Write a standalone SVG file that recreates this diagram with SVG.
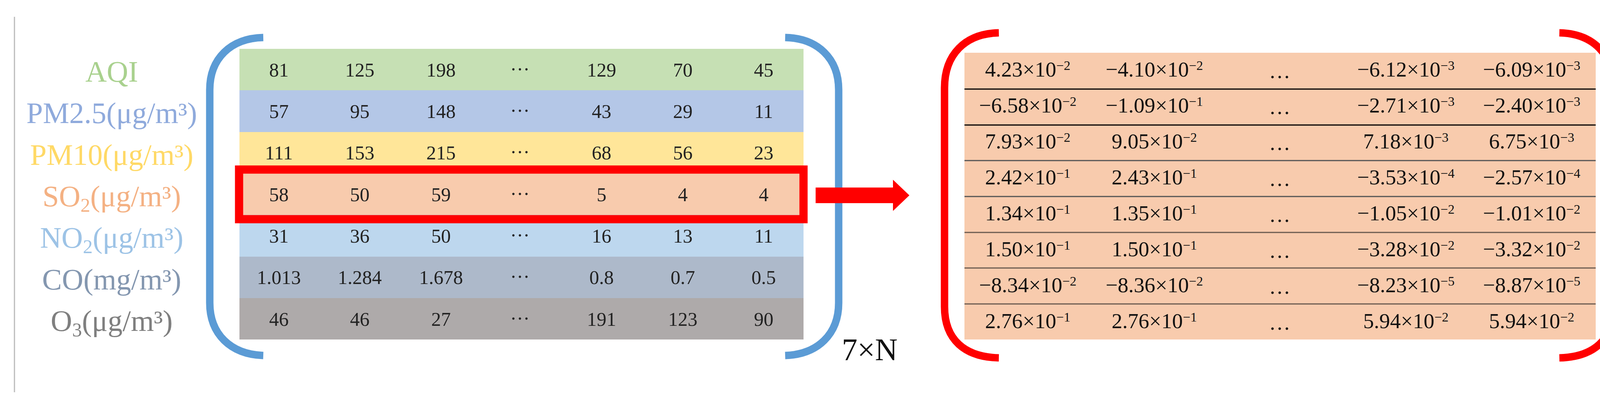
<svg xmlns="http://www.w3.org/2000/svg" width="4312" height="1029" viewBox="0 0 4312 1029">
<style>
.lab{font-family:"Liberation Serif",serif;font-size:76px;text-anchor:middle}
.sub{font-size:50px}
.num{font-family:"Liberation Serif",serif;font-size:50px;text-anchor:middle;fill:#222}
.sci{font-family:"Liberation Serif",serif;font-size:55px;text-anchor:middle;fill:#111}
.sup{font-size:34px}
.dim{font-family:"Liberation Serif",serif;font-size:80px;fill:#111}
</style>
<rect width="4312" height="1029" fill="#fff"/>
<line x1="37" y1="43" x2="37" y2="1004" stroke="#bbb" stroke-width="3"/>
<g id="labels">
<text class="lab" x="286" y="209" fill="#a9d18e">AQI</text>
<text class="lab" x="286" y="315" fill="#8faadc">PM2.5(μg/m³)</text>
<text class="lab" x="286" y="422" fill="#ffd966">PM10(μg/m³)</text>
<text class="lab" x="286" y="528" fill="#f4b183">SO<tspan class="sub" dy="14">2</tspan><tspan dy="-14">(μg/m³)</tspan></text>
<text class="lab" x="286" y="634" fill="#9dc3e6">NO<tspan class="sub" dy="14">2</tspan><tspan dy="-14">(μg/m³)</tspan></text>
<text class="lab" x="286" y="741" fill="#8497b0">CO(mg/m³)</text>
<text class="lab" x="286" y="847" fill="#7f7f7f">O<tspan class="sub" dy="14">3</tspan><tspan dy="-14">(μg/m³)</tspan></text>
</g>
<g id="matrix-left">
<rect x="613" y="125" width="1444" height="106" fill="#c6e0b4"/>
<rect x="613" y="231" width="1444" height="107" fill="#b4c7e7"/>
<rect x="613" y="338" width="1444" height="106" fill="#ffe699"/>
<rect x="613" y="444" width="1444" height="106" fill="#f8cbad"/>
<rect x="613" y="550" width="1444" height="107" fill="#bdd7ee"/>
<rect x="613" y="657" width="1444" height="106" fill="#adb9ca"/>
<rect x="613" y="763" width="1444" height="106" fill="#aeaaaa"/>
<g class="num">
<text x="714" y="196">81</text><text x="921" y="196">125</text><text x="1129" y="196">198</text><text x="1331" y="180">…</text><text x="1540" y="196">129</text><text x="1748" y="196">70</text><text x="1955" y="196">45</text>
<text x="714" y="302">57</text><text x="921" y="302">95</text><text x="1129" y="302">148</text><text x="1331" y="286">…</text><text x="1540" y="302">43</text><text x="1748" y="302">29</text><text x="1955" y="302">11</text>
<text x="714" y="408">111</text><text x="921" y="408">153</text><text x="1129" y="408">215</text><text x="1331" y="392">…</text><text x="1540" y="408">68</text><text x="1748" y="408">56</text><text x="1955" y="408">23</text>
<text x="714" y="515">58</text><text x="921" y="515">50</text><text x="1129" y="515">59</text><text x="1331" y="499">…</text><text x="1540" y="515">5</text><text x="1748" y="515">4</text><text x="1955" y="515">4</text>
<text x="714" y="621">31</text><text x="921" y="621">36</text><text x="1129" y="621">50</text><text x="1331" y="605">…</text><text x="1540" y="621">16</text><text x="1748" y="621">13</text><text x="1955" y="621">11</text>
<text x="714" y="727">1.013</text><text x="921" y="727">1.284</text><text x="1129" y="727">1.678</text><text x="1331" y="711">…</text><text x="1540" y="727">0.8</text><text x="1748" y="727">0.7</text><text x="1955" y="727">0.5</text>
<text x="714" y="834">46</text><text x="921" y="834">46</text><text x="1129" y="834">27</text><text x="1331" y="818">…</text><text x="1540" y="834">191</text><text x="1748" y="834">123</text><text x="1955" y="834">90</text>
</g>
<rect x="612" y="434" width="1445" height="127" fill="none" stroke="#ff0000" stroke-width="21"/>
<path d="M674,96 C590,98 537,150 537,230 L537,775 C537,855 590,907 674,910" fill="none" stroke="#5b9bd5" stroke-width="19"/>
<path d="M2010,96 C2094,98 2147,150 2147,230 L2147,775 C2147,855 2094,907 2010,910" fill="none" stroke="#5b9bd5" stroke-width="19"/>
<text class="dim" x="2155" y="922">7×N</text>
</g>
<g id="connectors">
<path d="M2088,480 L2286,480 L2286,460 L2328,500 L2286,540 L2286,520 L2088,520 Z" fill="#ff0000"/>
</g>
<g id="matrix-right">
<rect x="2469" y="135" width="1616" height="734" fill="#f8cbad"/>
<g stroke-width="3">
<line x1="2469" y1="228" x2="4085" y2="228" stroke="#000"/>
<line x1="2469" y1="320" x2="4085" y2="320" stroke="#000"/>
<line x1="2469" y1="411" x2="4085" y2="411" stroke="#555"/>
<line x1="2469" y1="503" x2="4085" y2="503" stroke="#555"/>
<line x1="2469" y1="595" x2="4085" y2="595" stroke="#6b5b50"/>
<line x1="2469" y1="686" x2="4085" y2="686" stroke="#6b5b50"/>
<line x1="2469" y1="778" x2="4085" y2="778" stroke="#6b5b50"/>
</g>
<g class="sci">
<text x="2631" y="196">4.23×10<tspan class="sup" dy="-17">−2</tspan></text><text x="2955" y="196">−4.10×10<tspan class="sup" dy="-17">−2</tspan></text><text x="3276" y="200">…</text><text x="3599" y="196">−6.12×10<tspan class="sup" dy="-17">−3</tspan></text><text x="3921" y="196">−6.09×10<tspan class="sup" dy="-17">−3</tspan></text>
<text x="2631" y="288">−6.58×10<tspan class="sup" dy="-17">−2</tspan></text><text x="2955" y="288">−1.09×10<tspan class="sup" dy="-17">−1</tspan></text><text x="3276" y="292">…</text><text x="3599" y="288">−2.71×10<tspan class="sup" dy="-17">−3</tspan></text><text x="3921" y="288">−2.40×10<tspan class="sup" dy="-17">−3</tspan></text>
<text x="2631" y="380">7.93×10<tspan class="sup" dy="-17">−2</tspan></text><text x="2955" y="380">9.05×10<tspan class="sup" dy="-17">−2</tspan></text><text x="3276" y="384">…</text><text x="3599" y="380">7.18×10<tspan class="sup" dy="-17">−3</tspan></text><text x="3921" y="380">6.75×10<tspan class="sup" dy="-17">−3</tspan></text>
<text x="2631" y="472">2.42×10<tspan class="sup" dy="-17">−1</tspan></text><text x="2955" y="472">2.43×10<tspan class="sup" dy="-17">−1</tspan></text><text x="3276" y="476">…</text><text x="3599" y="472">−3.53×10<tspan class="sup" dy="-17">−4</tspan></text><text x="3921" y="472">−2.57×10<tspan class="sup" dy="-17">−4</tspan></text>
<text x="2631" y="564">1.34×10<tspan class="sup" dy="-17">−1</tspan></text><text x="2955" y="564">1.35×10<tspan class="sup" dy="-17">−1</tspan></text><text x="3276" y="568">…</text><text x="3599" y="564">−1.05×10<tspan class="sup" dy="-17">−2</tspan></text><text x="3921" y="564">−1.01×10<tspan class="sup" dy="-17">−2</tspan></text>
<text x="2631" y="656">1.50×10<tspan class="sup" dy="-17">−1</tspan></text><text x="2955" y="656">1.50×10<tspan class="sup" dy="-17">−1</tspan></text><text x="3276" y="660">…</text><text x="3599" y="656">−3.28×10<tspan class="sup" dy="-17">−2</tspan></text><text x="3921" y="656">−3.32×10<tspan class="sup" dy="-17">−2</tspan></text>
<text x="2631" y="748">−8.34×10<tspan class="sup" dy="-17">−2</tspan></text><text x="2955" y="748">−8.36×10<tspan class="sup" dy="-17">−2</tspan></text><text x="3276" y="752">…</text><text x="3599" y="748">−8.23×10<tspan class="sup" dy="-17">−5</tspan></text><text x="3921" y="748">−8.87×10<tspan class="sup" dy="-17">−5</tspan></text>
<text x="2631" y="840">2.76×10<tspan class="sup" dy="-17">−1</tspan></text><text x="2955" y="840">2.76×10<tspan class="sup" dy="-17">−1</tspan></text><text x="3276" y="844">…</text><text x="3599" y="840">5.94×10<tspan class="sup" dy="-17">−2</tspan></text><text x="3921" y="840">5.94×10<tspan class="sup" dy="-17">−2</tspan></text>
</g>
<path d="M2557,84 C2470,86 2418,140 2418,225 L2418,785 C2418,870 2470,914 2557,916" fill="none" stroke="#ff0000" stroke-width="19"/>
<path d="M3992,84 C4079,86 4131,140 4131,225 L4131,785 C4131,870 4079,914 3992,916" fill="none" stroke="#ff0000" stroke-width="19"/>
<text class="dim" x="4113" y="967">n×N</text>
</g>
</svg>
